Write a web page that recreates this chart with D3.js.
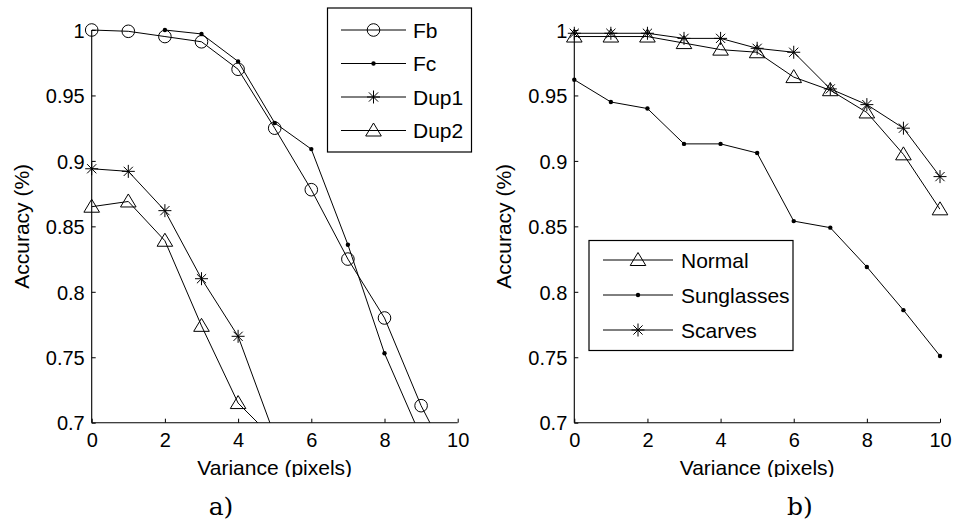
<!DOCTYPE html>
<html><head><meta charset="utf-8">
<script src="https://cdn.jsdelivr.net/npm/d3@7"></script>
<style>
body{margin:0;background:#fff;}
svg{display:block;}
text{font-family:"Liberation Sans",Arial,Helvetica,sans-serif;fill:#000;}
</style></head>
<body>
<svg id="chart" width="954" height="525"></svg>
<script>
// ---- data ----
const variance = [0,1,2,3,4,5,6,7,8,9,10];
const xTicks = [0,2,4,6,8,10];
const yTicks = [0.7,0.75,0.8,0.85,0.9,0.95,1];
const yTickLabels = ["0.7","0.75","0.8","0.85","0.9","0.95","1"];

// panel a)
const fb   = [1.0, 0.999, 0.995, 0.991, 0.970, 0.925, 0.878, 0.825, 0.780, 0.713, 0.659];
const fc   = [null, null, 1.0, 0.997, 0.976, 0.929, 0.909, 0.836, 0.753, 0.689, null];
const dup1 = [0.894, 0.892, 0.862, 0.810, 0.766, 0.690, null, null, null, null, null];
const dup2 = [0.865, 0.869, 0.839, 0.774, 0.715, 0.687, null, null, null, null, null];
// panel b)
const normal     = [0.995, 0.995, 0.995, 0.990, 0.985, 0.983, 0.964, 0.954, 0.937, 0.905, 0.863];
const sunglasses = [0.962, 0.945, 0.940, 0.913, 0.913, 0.906, 0.854, 0.849, 0.819, 0.786, 0.751];
const scarves    = [0.9975, 0.9975, 0.9975, 0.9936, 0.9936, 0.986, 0.983, 0.955, 0.943, 0.925, 0.888];

const seriesA = [
  {name:"Fb", values:fb, marker:"circle"},
  {name:"Fc", values:fc, marker:"dot"},
  {name:"Dup1", values:dup1, marker:"star"},
  {name:"Dup2", values:dup2, marker:"triangle"}
];
const seriesB = [
  {name:"Normal", values:normal, marker:"triangle"},
  {name:"Sunglasses", values:sunglasses, marker:"dot"},
  {name:"Scarves", values:scarves, marker:"star"}
];

const svg = d3.select("#chart");
const yRange = [422.7, 30];

function drawMarker(g, type, x, y){
  if(type==="circle"){
    g.append("circle").attr("cx",x).attr("cy",y).attr("r",6.3)
      .attr("fill","none").attr("stroke","#000").attr("stroke-width",1);
  } else if(type==="dot"){
    g.append("circle").attr("cx",x).attr("cy",y).attr("r",2.2).attr("fill","#000");
  } else if(type==="star"){
    const s=6.5, d=4.6;
    const p = `M${x-s},${y}L${x+s},${y}M${x},${y-s}L${x},${y+s}M${x-d},${y-d}L${x+d},${y+d}M${x-d},${y+d}L${x+d},${y-d}`;
    g.append("path").attr("d",p).attr("stroke","#000").attr("stroke-width",1).attr("fill","none");
  } else if(type==="triangle"){
    const p = `M${x},${y-7.5}L${x+7.8},${y+5.5}L${x-7.8},${y+5.5}Z`;
    g.append("path").attr("d",p).attr("stroke","#000").attr("stroke-width",1).attr("fill","none");
  }
}

function panel(id, x0, x1, series, legend, caption, capX){
  const x = d3.scaleLinear().domain([0,10]).range([x0,x1]);
  const y = d3.scaleLinear().domain([0.7,1]).range(yRange);
  const g = svg.append("g");

  // clip for lines
  g.append("clipPath").attr("id","clip"+id).append("rect")
    .attr("x",x0).attr("y",0).attr("width",x1-x0).attr("height",yRange[0]);

  // axes
  const xa = d3.axisBottom(x).tickValues(xTicks).tickSize(-4).tickPadding(10).tickFormat(d3.format("d"));
  const gx = g.append("g").attr("transform",`translate(0,${yRange[0]})`).call(xa);
  const ya = d3.axisLeft(y).tickValues(yTicks).tickSize(-4).tickPadding(7)
    .tickFormat((d,i)=>yTickLabels[i]);
  const gy = g.append("g").attr("transform",`translate(${x0},0)`).call(ya);
  [gx,gy].forEach(a=>{
    a.select(".domain").attr("stroke","#000").attr("stroke-width",1.1);
    a.selectAll(".tick line").attr("stroke","#000");
    a.selectAll("text").style("font-size","20px").attr("fill","#000");
  });
  gx.select(".domain").attr("d",`M${x0},0H${x1}`);
  gy.select(".domain").attr("d",`M0,${yRange[0]}V${yRange[1]}`);
  gy.selectAll(".tick text").attr("dy","0.36em");

  // lines
  const line = d3.line().defined(d=>d.v!=null).x(d=>x(d.x)).y(d=>y(d.v));
  const lg = g.append("g").attr("clip-path",`url(#clip${id})`);
  series.forEach(s=>{
    const pts = variance.map((vx,i)=>({x:vx, v:s.values[i]}));
    lg.append("path").datum(pts).attr("d",line).attr("fill","none")
      .attr("stroke","#000").attr("stroke-width",1);
  });
  // markers
  const mg = g.append("g");
  series.forEach(s=>{
    variance.forEach((vx,i)=>{
      const v=s.values[i];
      if(v!=null && v>=0.7) drawMarker(mg, s.marker, x(vx), y(v));
    });
  });

  // axis labels
  g.append("clipPath").attr("id","lclip"+id).append("rect")
    .attr("x",0).attr("y",0).attr("width",954).attr("height",477);
  g.append("text").attr("x",(x0+x1)/2).attr("y",475).attr("text-anchor","middle")
    .attr("clip-path",`url(#lclip${id})`)
    .style("font-size","21px").text("Variance (pixels)");
  g.append("text").attr("transform",`translate(${x0-63},${(yRange[0]+yRange[1])/2}) rotate(-90)`)
    .attr("text-anchor","middle").style("font-size","21px").text("Accuracy (%)");

  // caption
  g.append("text").attr("x",capX).attr("y",515).attr("text-anchor","middle")
    .style("font-family","'DejaVu Serif','Liberation Serif',serif").style("font-size","25px")
    .text(caption);

  // legend
  const L = legend;
  const leg = g.append("g");
  leg.append("rect").attr("x",L.x).attr("y",L.y).attr("width",L.w).attr("height",L.h)
    .attr("fill","#fff").attr("stroke","#000").attr("stroke-width",1.2);
  series.forEach((s,i)=>{
    const yy = L.firstY + i*L.step;
    leg.append("line").attr("x1",L.lx1).attr("x2",L.lx2).attr("y1",yy).attr("y2",yy)
      .attr("stroke","#000").attr("stroke-width",1);
    drawMarker(leg, s.marker, (L.lx1+L.lx2)/2, yy);
    leg.append("text").attr("x",L.tx).attr("y",yy).attr("dy","0.36em")
      .style("font-size","21px").text(s.name);
  });
}

panel("a", 91.7, 457.7, seriesA,
  {x:327.5, y:8, w:144, h:144, firstY:30, step:33.5, lx1:341, lx2:406, tx:413},
  "a)", 221);
panel("b", 574.3, 940, seriesB,
  {x:589, y:240.5, w:204, h:110, firstY:260, step:35, lx1:603, lx2:673, tx:681},
  "b)", 800);
</script>
</body></html>
